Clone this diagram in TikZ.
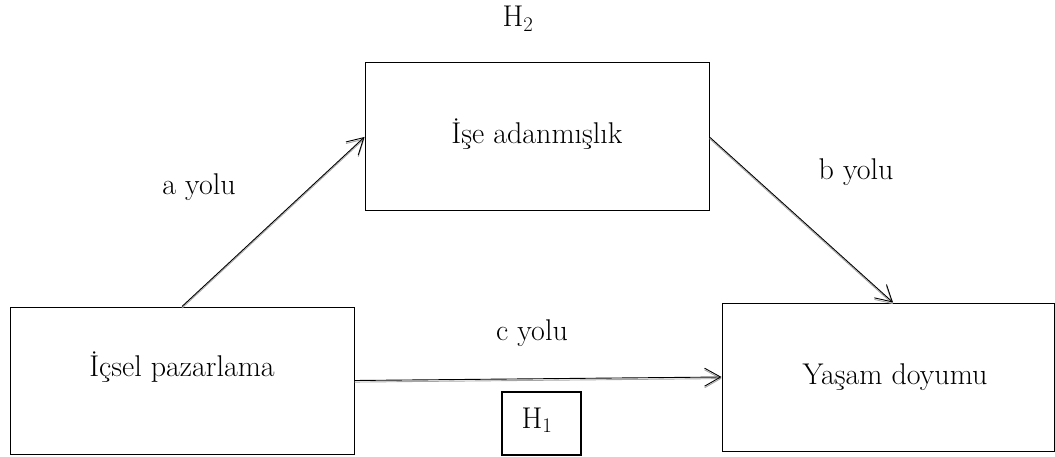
\documentclass[tikz,border=0pt]{standalone}
\usetikzlibrary{arrows.meta,calc}
\begin{document}
\begin{tikzpicture}[x=1pt,y=-1pt,
  box/.style={draw, line width=1pt, inner sep=0pt},
  hbox/.style={draw, line width=2pt, inner sep=0pt},
  lbl/.style={font=\fontsize{30}{34}\selectfont, inner sep=0pt, anchor=base},
  flow/.style={line width=0.9pt, -{Straight Barb[length=16pt,width=18pt,line width=0.9pt]}},
  shade/.style={flow, draw=black!35, transform canvas={yshift=-1.6pt}}]
  \useasboundingbox (0,0) rectangle (1055,457);

  % boxes of the mediation model
  \node[box, minimum width=344pt, minimum height=147pt] (ip) at (182,380.5) {};
  \node[box, minimum width=344pt, minimum height=148pt] (ia) at (537,137) {};
  \node[box, minimum width=332pt, minimum height=148pt] (yd) at (888,377) {};
  \node[hbox, minimum width=79pt, minimum height=63pt] (h1box) at (541.5,423.5) {};

  % box texts
  \node[lbl] (iptext) at (182,376) {İçsel pazarlama};
  \node[lbl] (iatext) at (537,144) {İşe adanmışlık};
  \node[lbl] (ydtext) at (895,384) {Yaşam doyumu};
  \node[lbl] (h1text) at (537,428) {H$_1$};
  \node[lbl] (h2text) at (518,27) {H$_2$};

  % path labels
  \node[lbl] (alab) at (199,195) {a yolu};
  \node[lbl] (blab) at (856,180) {b yolu};
  \node[lbl] (clab) at (532,340) {c yolu};

  % paths: grey shadow first, then the black line
  \draw[shade] (ip.north) -- (ia.west);
  \draw[shade] (ia.east) -- ($(yd.north)+(5,0)$);
  \draw[shade] (ip.east) -- (yd.west);
  \draw[flow] (ip.north) -- (ia.west);
  \draw[flow] (ia.east) -- ($(yd.north)+(5,0)$);
  \draw[flow] (ip.east) -- (yd.west);
\end{tikzpicture}
\end{document}
